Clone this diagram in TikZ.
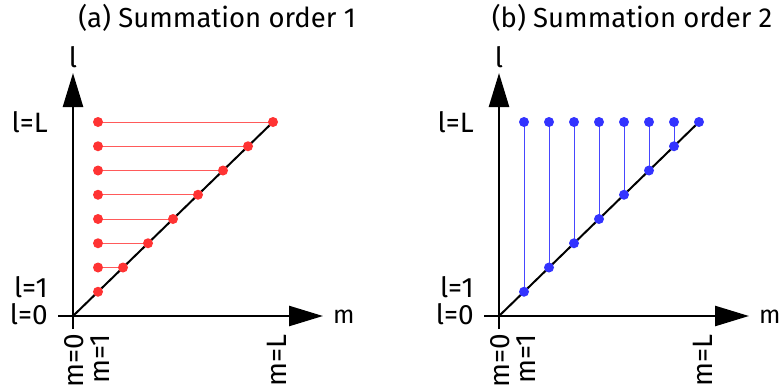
\documentclass[tikz,border=0pt]{standalone}
\usepackage{fontspec}
\setmainfont{Fira Sans}
\usetikzlibrary{arrows.meta,backgrounds}
\definecolor{dotred}{RGB}{255,51,51}
\definecolor{linered}{RGB}{255,90,90}
\definecolor{dotblue}{RGB}{51,51,255}
\definecolor{lineblue}{RGB}{70,70,255}
\begin{document}
\begin{tikzpicture}[x=1pt,y=-1pt,
  axis/.style={line width=2.5pt,-{Triangle[length=34pt,width=20pt]}},
  diag/.style={line width=2pt},
  reddot/.style={circle,fill=dotred,inner sep=0pt,minimum size=10pt},
  bluedot/.style={circle,fill=dotblue,inner sep=0pt,minimum size=10pt},
  redline/.style={line width=1pt,linered},
  blueline/.style={line width=1pt,lineblue},
  lbl/.style={font=\fontsize{28}{30}\selectfont,inner sep=0pt},
  mlbl/.style={font=\fontsize{25}{28}\selectfont,inner sep=0pt},
  ttl/.style={font=\fontsize{27.5}{30}\selectfont,inner sep=0pt},
  vlbl/.style={lbl,rotate=90,anchor=base east}]
\useasboundingbox (0,0) rectangle (781,391);
% titles
\node[ttl,anchor=base] (ta) at (217,27) {(a) Summation order 1};
\node[ttl,anchor=base] (tb) at (632,27) {(b) Summation order 2};
% ---------- panel (a)
\begin{scope}
\coordinate (oa) at (73,316);
\coordinate (yba) at (73,329);
\coordinate (yta) at (73,73);
\coordinate (xla) at (58,316);
\coordinate (xra) at (323,316);
\draw[axis] (yba) -- (yta);
\draw[axis] (xla) -- (xra);
\foreach \i in {1,...,8}{
  \node[reddot] (da\i) at (73+25*\i,316-24.25*\i) {};
}
\foreach \i in {2,...,8}{
  \node[reddot] (la\i) at (98,316-24.25*\i) {};
}
\begin{scope}[on background layer]
\draw[diag] (oa) -- (da8.center);
\foreach \i in {2,...,8}{
  \draw[redline] (la\i.center) -- (da\i.center);
}
\end{scope}
\node[lbl,anchor=base] (laxa) at (73,67) {l};
\node[mlbl,anchor=base west] (maxa) at (333,323) {m};
\node[lbl,anchor=base east] (lLa) at (48,132) {l=L};
\node[lbl,anchor=base east] (l1a) at (48,297) {l=1};
\node[lbl,anchor=base east] (l0a) at (48,324) {l=0};
\node[vlbl] (m0a) at (83,334) {m=0};
\node[vlbl] (m1a) at (109,334) {m=1};
\node[vlbl] (mLa) at (286,334) {m=L};
\end{scope}
% ---------- panel (b)
\begin{scope}[xshift=426pt]
\coordinate (ob) at (73,316);
\coordinate (ybb) at (73,329);
\coordinate (ytb) at (73,73);
\coordinate (xlb) at (58,316);
\coordinate (xrb) at (323,316);
\draw[axis] (ybb) -- (ytb);
\draw[axis] (xlb) -- (xrb);
\foreach \i in {1,...,8}{
  \node[bluedot] (db\i) at (73+25*\i,316-24.25*\i) {};
}
\foreach \i in {1,...,7}{
  \node[bluedot] (tb\i) at (73+25*\i,122) {};
}
\begin{scope}[on background layer]
\draw[diag] (ob) -- (db8.center);
\foreach \i in {1,...,7}{
  \draw[blueline] (tb\i.center) -- (db\i.center);
}
\end{scope}
\node[lbl,anchor=base] (laxb) at (73,67) {l};
\node[mlbl,anchor=base west] (maxb) at (333,323) {m};
\node[lbl,anchor=base east] (lLb) at (48,132) {l=L};
\node[lbl,anchor=base east] (l1b) at (48,297) {l=1};
\node[lbl,anchor=base east] (l0b) at (48,324) {l=0};
\node[vlbl] (m0b) at (83,334) {m=0};
\node[vlbl] (m1b) at (109,334) {m=1};
\node[vlbl] (mLb) at (286,334) {m=L};
\end{scope}
\end{tikzpicture}
\end{document}
